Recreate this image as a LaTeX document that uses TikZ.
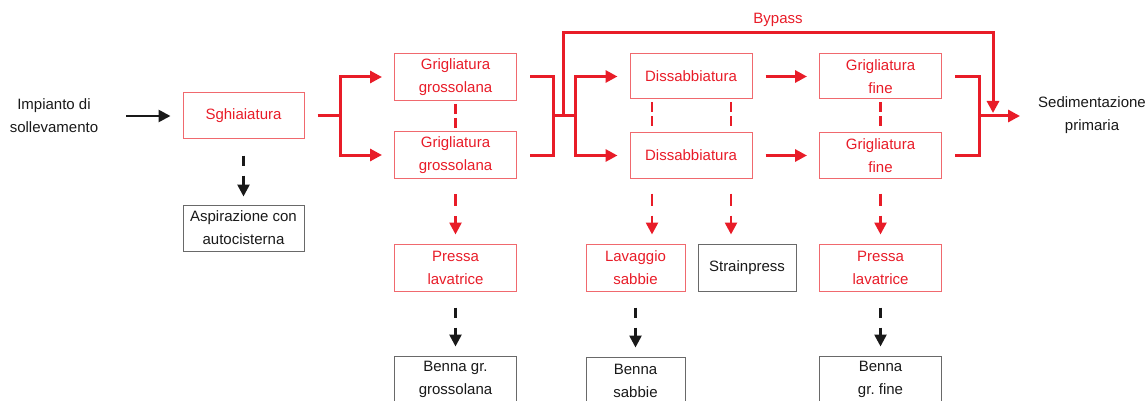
\documentclass[tikz,border=0pt]{standalone}
\usepackage{fontspec}
\setmainfont{Liberation Sans}
\usetikzlibrary{arrows.meta}
\frenchspacing

\definecolor{flowred}{RGB}{232,28,40}
\definecolor{boxred}{RGB}{240,105,110}
\definecolor{boxgray}{RGB}{105,105,105}
\definecolor{inkblack}{RGB}{25,25,25}

\tikzset{
  every node/.style={font=\fontsize{15}{23}\selectfont, align=center, inner sep=0pt},
  plaintext/.style={text=inkblack},
  redbox/.style={draw=boxred, line width=1pt, text=flowred,
                 minimum width=122pt, minimum height=47pt},
  graybox/.style={draw=boxgray, line width=1pt, text=inkblack,
                  minimum width=122pt, minimum height=47pt},
  flow/.style={draw=flowred, line width=3pt},
  flowarrow/.style={flow, -{Triangle[length=12pt,width=12pt]}, shorten >=12pt},
  reddash/.style={draw=flowred, line width=2.4pt, dash pattern=on 10pt off 4pt,
                  shorten <=3pt, shorten >=3pt},
  reddasharrow/.style={draw=flowred, line width=2.6pt, dash pattern=on 12pt off 10pt,
                       -{Triangle[length=12pt,width=12pt]},
                       shorten <=15pt, shorten >=9pt},
  blackdasharrow/.style={draw=inkblack, line width=2.6pt, dash pattern=on 10pt off 10pt,
                         -{Triangle[length=12pt,width=12pt]},
                         shorten <=16pt, shorten >=9pt},
  blackarrow/.style={draw=inkblack, line width=2.6pt,
                     -{Triangle[length=12pt,width=12pt]}},
}

\begin{document}
\begin{tikzpicture}[x=1pt,y=-1pt]
\useasboundingbox (0,0) rectangle (1148,401);
\clip (0,0) rectangle (1148,401);

% process blocks
\node[plaintext] (imp) at (54,116) {Impianto di\\sollevamento};
\node[redbox, minimum width=121pt, minimum height=46pt] (sgh) at (243.5,116) {Sghiaiatura};
\node[graybox, minimum width=121pt, minimum height=46pt] (asp) at (243.5,228) {Aspirazione con\\autocisterna};
\node[redbox] (gg1) at (455.5,77) {Grigliatura\\grossolana};
\node[redbox] (gg2) at (455.5,155) {Grigliatura\\grossolana};
\node[redbox, minimum height=45pt] (dis1) at (691,76.5) {Dissabbiatura};
\node[redbox, minimum height=45pt] (dis2) at (691,155.5) {Dissabbiatura};
\node[redbox, minimum height=45pt] (gf1) at (880.5,76.5) {Grigliatura\\fine};
\node[redbox, minimum height=45pt] (gf2) at (880.5,155.5) {Grigliatura\\fine};
\node[plaintext] (sed) at (1092,115) {Sedimentazione\\primaria};

% treatment of the residues
\node[redbox] (pl1) at (455.5,267.5) {Pressa\\lavatrice};
\node[redbox, minimum width=99pt] (lav) at (635.5,267.5) {Lavaggio\\sabbie};
\node[graybox, minimum width=98pt] (str) at (747,267.5) {Strainpress};
\node[redbox] (pl2) at (880.5,267.5) {Pressa\\lavatrice};
\node[graybox, minimum height=46pt] (bg1) at (455.5,379) {Benna gr.\\grossolana};
\node[graybox, minimum width=99pt, minimum height=48pt] (bs) at (635.5,381) {Benna\\sabbie};
\node[graybox, minimum height=46pt] (bgf) at (880.5,379) {Benna\\gr.\ fine};

% junctions of the main line
\coordinate (fork1) at (340,116);
\coordinate (merge1) at (553,116);
\coordinate (fork2) at (575,116);
\coordinate (bpstart) at (563,116);
\coordinate (bptop) at (778,33);
\coordinate (merge2) at (979,116);
\coordinate (bpend) at (993,116);
\coordinate (dsa) at ([xshift=-39pt]dis2.south);
\coordinate (dsb) at ([xshift=40pt]dis2.south);

% main water line
\draw[blackarrow, shorten <=28pt, shorten >=12pt] (imp.east) -- (sgh.west);
\draw[flow, shorten <=13pt] (sgh.east) -- (fork1);
\draw[flowarrow] (fork1) |- (gg1.west);
\draw[flowarrow] (fork1) |- (gg2.west);
\draw[flow, shorten <=13pt, shorten >=13pt] (gg1.east) -| (merge1) |- (gg2.east);
\draw[flow] (merge1) -- (fork2);
\draw[flowarrow] (fork2) |- (dis1.west);
\draw[flowarrow] (fork2) |- (dis2.west);
\draw[flowarrow, shorten <=13pt] (dis1.east) -- (gf1.west);
\draw[flowarrow, shorten <=13pt] (dis2.east) -- (gf2.west);
\draw[flow, shorten <=13pt, shorten >=13pt] (gf1.east) -| (merge2) |- (gf2.east);
\draw[flowarrow, shorten >=18pt] (merge2) -- (merge2 -| sed.west);

% bypass
\draw[flowarrow, shorten >=3pt] (bpstart) |- (bptop) -| (bpend);
\node[text=flowred] (bplabel) at (778,20) {Bypass};

% parallel units
\draw[reddash] (gg1.south) -- (gg2.north);
\draw[reddash] ([xshift=-39pt]dis1.south) -- ([xshift=-39pt]dis2.north);
\draw[reddash] ([xshift=40pt]dis1.south) -- ([xshift=40pt]dis2.north);
\draw[reddash] (gf1.south) -- (gf2.north);

% residues
\draw[blackdasharrow, shorten >=8pt] (sgh.south) -- (asp.north);
\draw[reddasharrow] (gg2.south) -- (pl1.north);
\draw[reddasharrow] (dsa) -- (dsa |- lav.north);
\draw[reddasharrow] (dsb) -- (dsb |- str.north);
\draw[reddasharrow] (gf2.south) -- (pl2.north);
\draw[blackdasharrow] (pl1.south) -- (bg1.north);
\draw[blackdasharrow] (lav.south) -- (bs.north);
\draw[blackdasharrow] (pl2.south) -- (bgf.north);
\end{tikzpicture}
\end{document}
